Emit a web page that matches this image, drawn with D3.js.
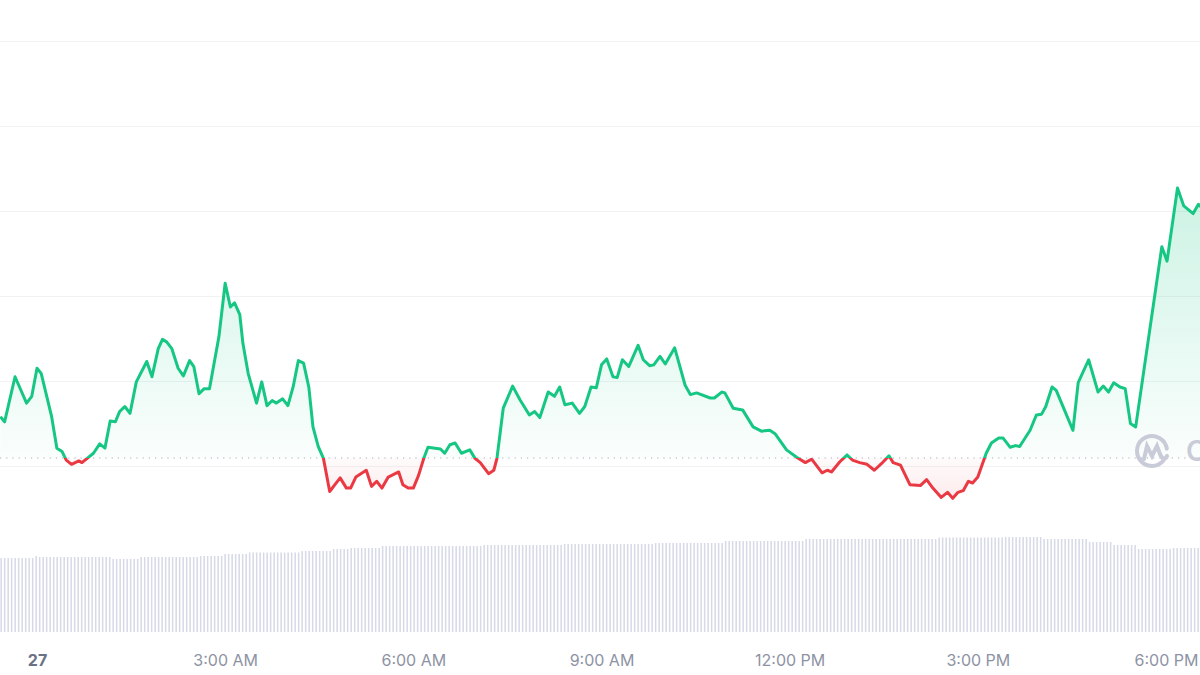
<!DOCTYPE html>
<html>
<head>
<meta charset="utf-8">
<script src="https://cdn.jsdelivr.net/npm/d3@7"></script>
<style>
  html, body { margin: 0; padding: 0; background: #fff; }
  svg { display: block; font-family: Inter, "Noto Sans", sans-serif; }
</style>
</head>
<body>
<svg width="1200" height="675"></svg>
<script>
// minutes after midnight of the 27th
const priceTime = [-35,-31,-21,-10,-5,0,4,14,19,24,28,33,40,43,48,54,60,65,70,75,79,84,89,95,105,110,116,120,124,129,135,140,146,150,155,160,165,174,180,185,189,194,197,202,210,215,220,225,229,235,240,245,250,255,260,264,269,274,280,285,290,296,300,305,315,320,325,330,336,346,350,355,360,365,370,374,386,390,395,400,406,414,419,424,432,437,440,446,455,462,471,476,481,489,495,500,505,512,519,524,530,535,540,545,551,555,560,566,575,580,586,590,596,601,610,620,625,631,644,648,655,658,666,675,685,693,701,706,717,727,735,741,751,756,760,768,775,780,787,794,801,808,815,819,826,835,845,851,857,865,871,876,881,886,891,895,900,908,913,920,924,931,936,940,950,956,961,965,971,975,991,996,1006,1015,1020,1025,1030,1036,1041,1046,1051,1076,1081,1091,1097,1106,1111,1113];
// price relative to the gridlines (one grid step = 10)
const priceValue = [5.8,5.2,10.5,7.4,8.2,11.5,10.9,5.8,2.1,1.7,0.7,0.2,0.6,0.4,0.9,1.5,2.6,2.1,5.3,5.2,6.4,7.0,6.2,9.9,12.3,10.5,13.8,14.9,14.6,13.8,11.5,10.6,12.4,11.7,8.5,9.1,9.1,15.2,21.5,18.7,19.2,17.8,14.4,10.9,7.4,9.9,7.1,7.7,7.4,7.9,7.1,9.3,12.4,12.1,9.3,4.6,2.3,0.9,-3.0,-2.2,-1.4,-2.6,-2.6,-1.3,-0.5,-2.4,-1.8,-2.6,-1.3,-0.7,-2.2,-2.6,-2.6,-1.1,0.9,2.2,2.0,1.5,2.5,2.7,1.5,1.9,0.9,0.4,-0.9,-0.5,0.9,6.8,9.4,7.8,6.0,6.4,5.7,8.7,8.2,9.3,7.2,7.4,6.2,7.0,9.3,9.2,11.9,12.6,10.5,10.4,12.5,11.7,14.2,12.5,11.8,11.9,12.9,12.0,13.9,9.5,8.4,8.6,8.0,8.0,8.7,8.6,6.8,6.6,4.6,4.1,4.2,3.8,1.9,1.0,0.4,0.8,-0.8,-0.5,-0.7,0.5,1.3,0.7,0.4,0.2,-0.5,0.3,1.2,0.4,0.1,-2.2,-2.3,-1.6,-2.6,-3.7,-3.1,-3.8,-3.1,-2.9,-1.8,-2.0,-1.3,1.5,2.7,3.3,3.3,2.2,2.4,2.3,4.2,6.0,6.1,7.0,9.3,8.9,4.2,9.8,12.5,8.7,9.4,8.7,9.8,9.3,9.1,5.0,4.6,25.8,24.1,32.7,30.6,29.7,30.8,30.5];
const openValue = 0.94;

// volume bars as runs: [number of bars, volume]
const volumeRuns = [[10,74],[1,76],[21,75],[8,73],[17,75],[7,76],[7,78],[15,79.5],[9,81],[5,83],[9,84],[6,86],[23,86],[23,87],[26,88],[20,89],[23,91],[38,93],[19,94.5],[11,95],[13,93],[7,90],[7,87],[10,83],[9,84]];
const volumeStart = -35;
const volumeStep = 3.348;

const xTicks = [0, 180, 360, 540, 720, 900, 1080];
const xTickLabels = ["27", "3:00 AM", "6:00 AM", "9:00 AM", "12:00 PM", "3:00 PM", "6:00 PM"];
const gridValues = [0, 10, 20, 30, 40, 50];

const prices = priceTime.map((t, i) => ({t: t, v: priceValue[i]}));
let volumes = [];
volumeRuns.forEach(r => {
    for (let k = 0; k < r[0]; k++) volumes.push(r[1]);
});
volumes = volumes.map((v, i) => ({t: volumeStart + i * volumeStep, v: v}));

const svg = d3.select("svg");
const width = 1200;
const green = "#16c784";
const red = "#ea3943";

const x = d3.scaleLinear().domain([0, 1080]).range([37, 1166]);
const y = d3.scaleLinear().domain([0, 50]).range([466, 41]);
const yVol = d3.scaleLinear().domain([0, 100]).range([632, 532]);

const defs = svg.append("defs");
const baseY = y(openValue);

defs.append("clipPath").attr("id", "above")
    .append("rect").attr("x", 0).attr("y", 0).attr("width", width).attr("height", baseY);
defs.append("clipPath").attr("id", "below")
    .append("rect").attr("x", 0).attr("y", baseY).attr("width", width).attr("height", 675 - baseY);

const gUp = defs.append("linearGradient").attr("id", "gradUp")
    .attr("gradientUnits", "userSpaceOnUse")
    .attr("x1", 0).attr("x2", 0).attr("y1", y(d3.max(priceValue))).attr("y2", baseY);
gUp.append("stop").attr("offset", 0).attr("stop-color", green).attr("stop-opacity", 0.22);
gUp.append("stop").attr("offset", 1).attr("stop-color", green).attr("stop-opacity", 0.02);

const gDown = defs.append("linearGradient").attr("id", "gradDown")
    .attr("gradientUnits", "userSpaceOnUse")
    .attr("x1", 0).attr("x2", 0).attr("y1", baseY).attr("y2", y(d3.min(priceValue)));
gDown.append("stop").attr("offset", 0).attr("stop-color", red).attr("stop-opacity", 0.02);
gDown.append("stop").attr("offset", 1).attr("stop-color", red).attr("stop-opacity", 0.1);

// grid
svg.append("g")
    .attr("class", "grid")
    .selectAll("line")
    .data(gridValues)
    .enter().append("line")
    .attr("x1", 0).attr("x2", width)
    .attr("y1", d => y(d) + 0.5).attr("y2", d => y(d) + 0.5)
    .attr("stroke", "#f1f2f4")
    .attr("stroke-width", 1);

// volume
svg.append("g")
    .selectAll("rect")
    .data(volumes)
    .enter().append("rect")
    .attr("x", d => x(d.t))
    .attr("y", d => yVol(d.v))
    .attr("width", 1.5)
    .attr("height", d => yVol(0) - yVol(d.v))
    .attr("fill", "#d6d9e6");

// areas
const area = d3.area().x(d => x(d.t)).y0(baseY).y1(d => y(d.v));
svg.append("path").datum(prices).attr("d", area)
    .attr("fill", "url(#gradUp)").attr("clip-path", "url(#above)");
svg.append("path").datum(prices).attr("d", area)
    .attr("fill", "url(#gradDown)").attr("clip-path", "url(#below)");

// open line
svg.append("line")
    .attr("x1", 0).attr("x2", width)
    .attr("y1", baseY).attr("y2", baseY)
    .attr("stroke", "#a7adbb")
    .attr("stroke-width", 1.2)
    .attr("stroke-dasharray", "1.2,5");

// watermark
const wm = svg.append("g").attr("transform", "translate(1152,451)").attr("fill", "none")
    .attr("stroke", "#c9ccd8").attr("stroke-width", 4).attr("stroke-linecap", "round");
wm.append("path").attr("d", d3.arc()({innerRadius: 0, outerRadius: 15, startAngle: Math.PI * 0.72, endAngle: Math.PI * 2.45}).split("L")[0]);
wm.append("path").attr("d", "M-8,8 L-5,-5 L0,5 L5,-5 L8,3 C10,9 14,8 15,5");
svg.append("text")
    .attr("x", 1186).attr("y", 461)
    .attr("font-size", 28).attr("font-weight", 600)
    .attr("fill", "#c9ccd8").text("CoinMarketCap");

// price line
const line = d3.line().x(d => x(d.t)).y(d => y(d.v));
svg.append("path").datum(prices).attr("d", line)
    .attr("fill", "none").attr("stroke", green).attr("stroke-width", 3)
    .attr("stroke-linejoin", "round").attr("clip-path", "url(#above)");
svg.append("path").datum(prices).attr("d", line)
    .attr("fill", "none").attr("stroke", red).attr("stroke-width", 3)
    .attr("stroke-linejoin", "round").attr("clip-path", "url(#below)");

// x axis
const xAxis = svg.append("g")
    .attr("transform", "translate(0,657)")
    .call(d3.axisBottom(x).tickValues(xTicks).tickFormat((d, i) => xTickLabels[i]).tickSize(0));
xAxis.select(".domain").remove();
xAxis.selectAll("text")
    .attr("dy", "0.35em")
    .attr("font-family", "Inter, 'Noto Sans', sans-serif")
    .attr("font-size", 16)
    .attr("fill", (d, i) => i === 0 ? "#6b7186" : "#8e93a4")
    .attr("font-weight", (d, i) => i === 0 ? 700 : 400);
</script>
</body>
</html>
